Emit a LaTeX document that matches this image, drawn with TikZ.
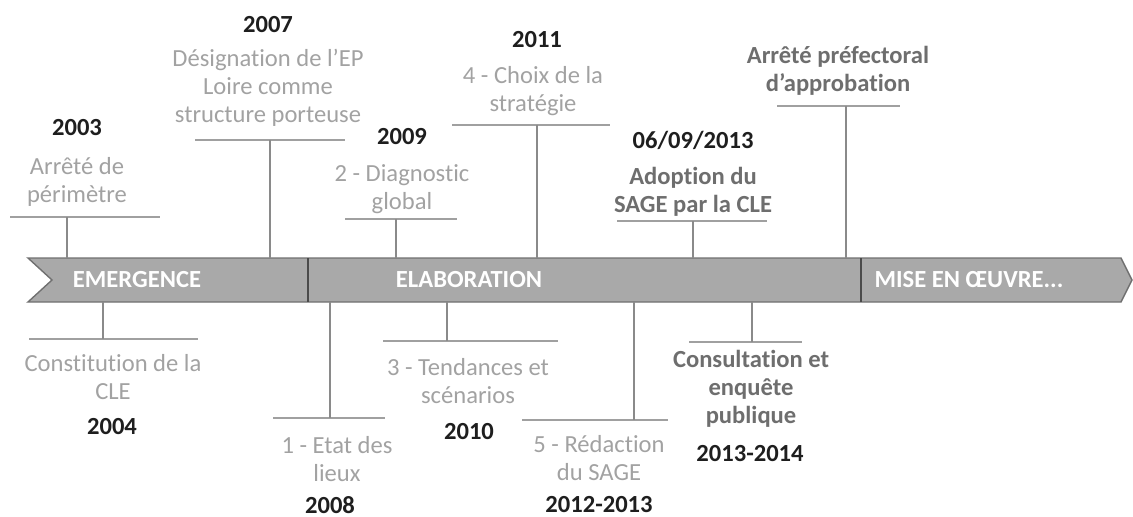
\documentclass[tikz,border=0pt]{standalone}
\usepackage{fontspec}
\setmainfont[Ligatures=NoCommon]{Carlito}
\usepackage{xcolor}
\usepackage{tikz}
\usetikzlibrary{positioning}
\definecolor{bandfill}{HTML}{A9A9A9}
\definecolor{bandline}{HTML}{707070}
\definecolor{divline}{HTML}{4A4A4A}
\definecolor{soft}{HTML}{A2A2A2}
\definecolor{strong}{HTML}{6E6E6E}
\definecolor{ink}{HTML}{1E1E1E}
\definecolor{rule}{HTML}{A0A0A0}
\definecolor{stem}{HTML}{8A8A8A}
\newcommand\tlfont{\fontsize{14}{15.9}\selectfont}

\begin{document}
\begin{tikzpicture}[x=0.02cm, y=-0.02cm,
  phase/.style={font=\tlfont\bfseries, text=white},
  year/.style={font=\tlfont\bfseries, text=ink, inner sep=1pt},
  event/.style={font=\tlfont, text=soft, align=center},
  keyevent/.style={font=\tlfont\bfseries, text=strong, align=center},
  bar/.style={draw=rule, line width=1.2pt},
  tick/.style={draw=stem, line width=0.9pt},
  divider/.style={draw=divline, line width=1.1pt}
]
\useasboundingbox (0,0) rectangle (1133,517);

% bande des phases
\coordinate (bandtop) at (0,258);
\coordinate (bandbot) at (0,302);
\draw[fill=bandfill, draw=bandline, line width=0.8pt]
  (28,258) -- (1121,258) -- (1132,280) -- (1121,302) -- (28,302) -- (52,280) -- cycle;
\draw[divider] (308,258) -- (308,302);
\draw[divider] (861,258) -- (861,302);

\node[phase] (emergence) at (137,280) {EMERGENCE};
\node[phase] (elaboration) at (469,280) {ELABORATION};
\node[phase] (miseenoeuvre) at (969,280) {MISE EN ŒUVRE...};

% au-dessus de la bande
\node[year] (y2003) at (77,128) {2003};
\node[event] (e2003) at (77,182) {Arrêté de\\périmètre};
\draw[bar] (10,217) -- (160,217);
\coordinate (k2003) at (67,217);
\draw[tick] (k2003) -- (k2003 |- bandtop);

\node[year] (y2007) at (268,25) {2007};
\node[event] (e2007) at (268,88) {Désignation de l’EP\\Loire comme\\structure porteuse};
\draw[bar] (195,140) -- (345,140);
\coordinate (k2007) at (270,140);
\draw[tick] (k2007) -- (k2007 |- bandtop);

\node[year] (y2009) at (402,137) {2009};
\node[event] (e2009) at (402,189) {2 - Diagnostic\\global};
\draw[bar] (345,219) -- (457,219);
\coordinate (k2009) at (396,219);
\draw[tick] (k2009) -- (k2009 |- bandtop);

\node[year] (y2011) at (537,40) {2011};
\node[event] (e2011) at (533,91) {4 - Choix de la\\stratégie};
\draw[bar] (452,125) -- (610,125);
\coordinate (k2011) at (537,125);
\draw[tick] (k2011) -- (k2011 |- bandtop);

\node[year] (y2013) at (693,140) {06/09/2013};
\node[keyevent] (adoption) at (693,192) {Adoption du\\SAGE par la CLE};
\draw[bar] (617,221) -- (767,221);
\coordinate (kadopt) at (693,221);
\draw[tick] (kadopt) -- (kadopt |- bandtop);

\node[keyevent] (arrete) at (838,71) {Arrêté préfectoral\\d’approbation};
\draw[bar] (777,106) -- (900,106);
\coordinate (karrete) at (846,106);
\draw[tick] (karrete) -- (karrete |- bandtop);

% sous la bande
\draw[bar] (29,339) -- (198,339);
\coordinate (k2004) at (103,339);
\draw[tick] (k2004 |- bandbot) -- (k2004);
\node[event] (e2004) at (113,377) {Constitution de la\\CLE};
\node[year] (y2004) at (112,427) {2004};

\draw[bar] (273,418) -- (385,418);
\coordinate (k2008) at (330,418);
\draw[tick] (k2008 |- bandbot) -- (k2008);
\node[event] (e2008) at (337,459) {1 - Etat des\\lieux};
\node[year] (y2008) at (330,505) {2008};

\draw[bar] (383,341) -- (558,341);
\coordinate (k2010) at (447,341);
\draw[tick] (k2010 |- bandbot) -- (k2010);
\node[event] (e2010) at (468,381) {3 - Tendances et\\scénarios};
\node[year] (y2010) at (469,432) {2010};

\draw[bar] (522,420) -- (668,420);
\coordinate (k2012) at (634,420);
\draw[tick] (k2012 |- bandbot) -- (k2012);
\node[event] (e2012) at (599,458) {5 - Rédaction\\du SAGE};
\node[year] (y2012) at (599,505) {2012-2013};

\draw[bar] (689,342) -- (802,342);
\coordinate (kconsult) at (752,342);
\draw[tick] (kconsult |- bandbot) -- (kconsult);
\node[keyevent] (consult) at (751,389) {Consultation et\\enquête\\publique};
\node[year] (y2014) at (750,454) {2013-2014};

\end{tikzpicture}
\end{document}
